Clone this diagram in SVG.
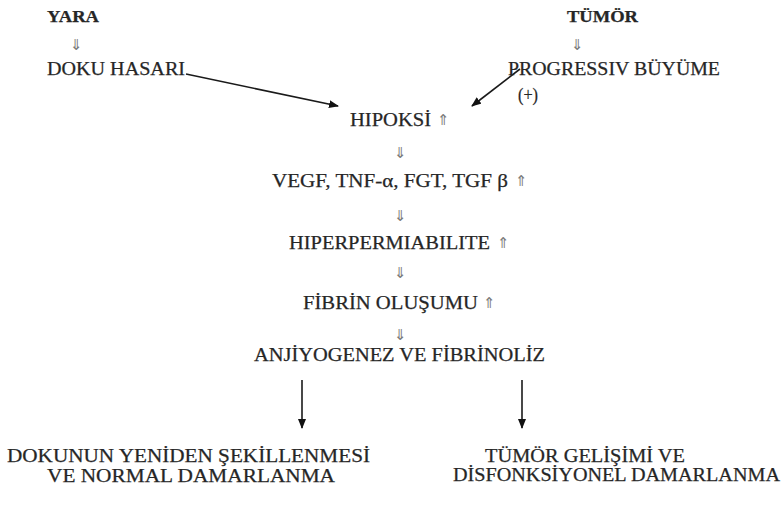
<svg xmlns="http://www.w3.org/2000/svg" width="782" height="505" viewBox="0 0 782 505">
<defs>
<marker id="ah" markerWidth="10" markerHeight="8" refX="9" refY="4" orient="auto" markerUnits="userSpaceOnUse">
<path d="M0,0 L10,4 L0,8 Z" fill="#111"/>
</marker>
<style>
.t{font-family:"Liberation Serif","Times New Roman",serif;font-size:19px;fill:#262626;stroke:#262626;stroke-width:0.25;}
.b{font-weight:bold;font-size:16px;}
.sym{font-family:"DejaVu Sans",sans-serif;font-size:15px;fill:#7a7a7a;text-anchor:middle;}
.ln{stroke:#1a1a1a;stroke-width:1.6;fill:none;}
</style>
</defs>
<rect width="782" height="505" fill="#fff"/>
<g id="connectors">
<text class="sym" x="76" y="50">⇓</text>
<text class="sym" x="577" y="50">⇓</text>
<path class="ln" d="M186,74 L338,106" marker-end="url(#ah)"/>
<path class="ln" d="M520,69 L472,106" marker-end="url(#ah)"/>
<text class="sym" x="400" y="158">⇓</text>
<text class="sym" x="400" y="221">⇓</text>
<text class="sym" x="400" y="278">⇓</text>
<text class="sym" x="400" y="340">⇓</text>
<path class="ln" d="M302,380 L302,428" marker-end="url(#ah)"/>
<path class="ln" d="M522,380 L522,428" marker-end="url(#ah)"/>
</g>
<g id="yara"><text class="t b" x="47" y="22" textLength="52" lengthAdjust="spacingAndGlyphs">YARA</text></g>
<g id="tumor"><text class="t b" x="567" y="22" textLength="71" lengthAdjust="spacingAndGlyphs">TÜMÖR</text></g>
<g id="doku-hasari"><text class="t" x="47" y="75" textLength="138" lengthAdjust="spacingAndGlyphs">DOKU HASARI</text></g>
<g id="progressiv"><text class="t" x="508" y="75" textLength="212" lengthAdjust="spacingAndGlyphs">PROGRESSIV BÜYÜME</text>
<text class="t" x="518" y="101" font-size="15" textLength="20" lengthAdjust="spacingAndGlyphs">(+)</text></g>
<g id="hipoksi"><text class="t" x="350" y="126" textLength="81" lengthAdjust="spacingAndGlyphs">HIPOKSİ</text><text class="sym" x="443" y="125">⇑</text></g>
<g id="vegf"><text class="t" x="272" y="187" textLength="236" lengthAdjust="spacingAndGlyphs">VEGF, TNF-α, FGT, TGF β</text><text class="sym" x="521" y="186">⇑</text></g>
<g id="hiperpermiabilite"><text class="t" x="289" y="249" textLength="201" lengthAdjust="spacingAndGlyphs">HIPERPERMIABILITE</text><text class="sym" x="503" y="248">⇑</text></g>
<g id="fibrin"><text class="t" x="303" y="309" textLength="175" lengthAdjust="spacingAndGlyphs">FİBRİN OLUŞUMU</text><text class="sym" x="489" y="308">⇑</text></g>
<g id="anjiyogenez"><text class="t" x="254" y="361" textLength="291" lengthAdjust="spacingAndGlyphs">ANJİYOGENEZ VE FİBRİNOLİZ</text></g>
<g id="normal"><text class="t" x="7" y="462" textLength="363" lengthAdjust="spacingAndGlyphs">DOKUNUN YENİDEN ŞEKİLLENMESİ</text>
<text class="t" x="47" y="482" textLength="288" lengthAdjust="spacingAndGlyphs">VE NORMAL DAMARLANMA</text></g>
<g id="tumor-gelisimi"><text class="t" x="485" y="462" textLength="200" lengthAdjust="spacingAndGlyphs">TÜMÖR GELİŞİMİ VE</text>
<text class="t" x="453" y="481" textLength="327" lengthAdjust="spacingAndGlyphs">DİSFONKSİYONEL DAMARLANMA</text></g>
</svg>
